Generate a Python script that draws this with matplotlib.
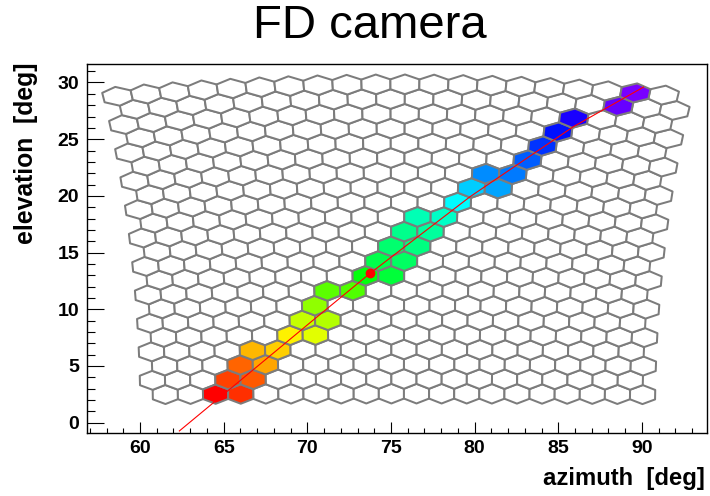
import numpy as np
import matplotlib
matplotlib.use("Agg")
import matplotlib.pyplot as plt
from matplotlib.collections import PolyCollection
from matplotlib.colors import Normalize
from matplotlib.ticker import MultipleLocator

plt.rcParams['font.family'] = ['Liberation Sans', 'DejaVu Sans']

# ---- camera geometry (deg) ----
n_rows = 22
n_cols = 20
pixel_spacing = 1.5
axis_az = 75.4
axis_el = 16.2

# ---- triggered pixels (row from bottom, column from left) and pulse time (hue units) ----
hit_rows = [0, 0, 1, 1, 2, 2, 3, 3, 4, 4, 5, 5, 6, 7, 7, 8, 8, 9, 9, 10, 10,
            11, 11, 12, 12, 13, 14, 14, 15, 15, 16, 17, 18, 19, 20, 21]
hit_cols = [2, 3, 3, 4, 3, 4, 4, 5, 5, 6, 6, 7, 6, 7, 8, 8, 9, 9, 10, 9, 10,
            10, 11, 10, 11, 12, 12, 13, 13, 14, 14, 15, 15, 16, 17, 18]
hit_time = [0, 12, 16, 22, 25, 40, 44, 50, 58, 68, 75, 80, 88, 100, 104, 125, 135,
            140, 145, 148, 152, 156, 160, 165, 170, 183, 195, 205, 210, 215, 222,
            232, 240, 250, 268, 272]

# ---- shower-detector-plane track and reconstructed point ----
sdp_az = [62.35, 70.36, 73.75, 79.73, 85.9, 90.1]
sdp_el = [-0.73, 9.06, 13.17, 19.93, 26.1, 29.6]
point_az = [73.75]
point_el = [13.17]

x_ticks_major = [60, 65, 70, 75, 80, 85, 90]
y_ticks_major = [0, 5, 10, 15, 20, 25, 30]


def to_sky(x, y):
    xx = np.radians(x)
    yy = np.radians(np.asarray(y) + axis_el)
    el = np.degrees(np.arcsin(np.cos(xx) * np.sin(yy)))
    az = axis_az + np.degrees(np.arctan2(np.sin(xx), np.cos(xx) * np.cos(yy)))
    return az, el


row_step = pixel_spacing * np.sqrt(3) / 2
R = pixel_spacing / np.sqrt(3)
ang = np.radians(30 + 60 * np.arange(6))


def hexagon(r, c):
    off = 0.375 if r % 2 == 0 else -0.375
    xc = (c - (n_cols - 1) / 2) * pixel_spacing + off
    yc = (r - (n_rows - 1) / 2) * row_step
    vx = xc + R * np.cos(ang)
    vy = yc + R * np.sin(ang)
    az, el = to_sky(vx, vy)
    return np.column_stack([az, el])


hits = {(r, c): t for r, c, t in zip(hit_rows, hit_cols, hit_time)}
cmap = plt.get_cmap('hsv')
norm = Normalize(0, 360)

white_polys, col_polys, col_faces = [], [], []
for r in range(n_rows):
    for c in range(n_cols):
        p = hexagon(r, c)
        if (r, c) in hits:
            col_polys.append(p)
            col_faces.append(cmap(norm(hits[(r, c)])))
        else:
            white_polys.append(p)

fig = plt.figure(figsize=(7.1, 4.96), dpi=100)
ax = fig.add_axes([87 / 710, 1 - 433 / 496, 620 / 710, 369 / 496])

ax.add_collection(PolyCollection(white_polys, facecolors='white',
                                 edgecolors='#7c7c7c', linewidths=1.45))
ax.add_collection(PolyCollection(col_polys, facecolors=col_faces,
                                 edgecolors='#7c7c7c', linewidths=1.45))
ax.plot(sdp_az, sdp_el, color='red', lw=0.8, zorder=5)
ax.plot(point_az, point_el, 'o', color='red', ms=6, zorder=6)

ax.set_xlim(56.83, 93.89)
ax.set_ylim(-0.91, 31.63)
ax.set_xticks(x_ticks_major)
ax.set_yticks(y_ticks_major)
ax.xaxis.set_minor_locator(MultipleLocator(1))
ax.yaxis.set_minor_locator(MultipleLocator(1))
ax.tick_params(which='both', direction='in', top=False, right=False, width=0.8,
               colors='black')
ax.tick_params(axis='y', which='major', length=12.2, pad=5.5)
ax.tick_params(axis='y', which='minor', length=6.1)
ax.tick_params(axis='x', which='major', length=7.6, pad=5)
ax.tick_params(axis='x', which='minor', length=3.8)
for lab in ax.get_xticklabels() + ax.get_yticklabels():
    lab.set_fontweight('bold')
    lab.set_fontsize(14)
for s in ax.spines.values():
    s.set_linewidth(1.0)

fig.text(369.5 / 710, 1 - 26 / 496, 'FD camera', ha='center', va='center', fontsize=34)
fig.text(705 / 710, 1 - 479 / 496, 'azimuth  [deg]', ha='right', va='center',
         fontsize=17.2, fontweight='bold')
fig.text(26 / 710, 1 - 63 / 496, 'elevation  [deg]', ha='center', va='top',
         rotation=90, fontsize=17.8, fontweight='bold')

fig.savefig('out.png', dpi=100)
